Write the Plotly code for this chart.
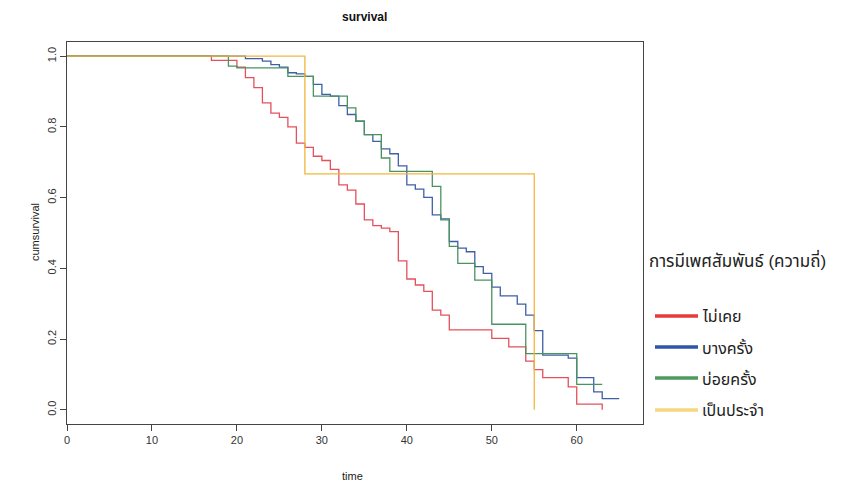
import plotly.graph_objects as go

# ---------------- data ----------------
series_names = ["ไม่เคย", "บางครั้ง", "บ่อยครั้ง", "เป็นประจำ"]
legend_title = "การมีเพศสัมพันธ์ (ความถี่)"

red_time = [0, 17, 20, 21, 22, 23, 24, 25, 26, 27, 28, 29, 30, 31, 32, 33, 34, 35, 36, 37, 38,
            39, 40, 41, 42, 43, 44, 45, 50, 52, 54, 55, 56, 59, 60, 63]
red_surv = [1.0, 0.988, 0.969, 0.939, 0.911, 0.868, 0.839, 0.827, 0.800, 0.754, 0.742, 0.717,
            0.705, 0.680, 0.636, 0.621, 0.582, 0.537, 0.521, 0.514, 0.504, 0.421, 0.370, 0.353,
            0.335, 0.282, 0.268, 0.226, 0.202, 0.178, 0.138, 0.114, 0.091, 0.065, 0.016, 0.0]

blue_time = [0, 21, 23, 24, 25, 26, 27, 28, 29, 30, 31, 32, 33, 34, 35, 36, 37, 38, 39, 40, 41,
             42, 43, 44, 45, 46, 47, 48, 49, 50, 51, 53, 54, 55, 56, 59, 60, 62, 63, 65]
blue_surv = [1.0, 0.993, 0.986, 0.976, 0.969, 0.953, 0.950, 0.943, 0.920, 0.892, 0.887, 0.860,
             0.835, 0.816, 0.778, 0.759, 0.738, 0.724, 0.690, 0.636, 0.624, 0.601, 0.551, 0.540,
             0.476, 0.457, 0.447, 0.405, 0.386, 0.347, 0.322, 0.299, 0.268, 0.224, 0.155, 0.146,
             0.091, 0.051, 0.032, 0.032]

green_time = [0, 19, 20, 26, 29, 33, 34, 35, 37, 38, 43, 44, 45, 46, 48, 50, 54, 60, 63]
green_surv = [1.0, 0.972, 0.967, 0.943, 0.887, 0.854, 0.816, 0.778, 0.712, 0.674, 0.632, 0.537,
              0.462, 0.414, 0.367, 0.242, 0.159, 0.072, 0.072]

yellow_time = [0, 28, 55]
yellow_surv = [1.0, 0.667, 0.0]

x_ticks = [0, 10, 20, 30, 40, 50, 60]
y_ticks = [0.0, 0.2, 0.4, 0.6, 0.8, 1.0]
y_ticklabels = ["0.0", "0.2", "0.4", "0.6", "0.8", "1.0"]

# ---------------- styling ----------------
line_colors = ["#E4505C", "#3F5FA8", "#4A9260", "#F2B63C"]
legend_colors = ["#E83A3E", "#2A57A8", "#4E9A5C", "#F8D680"]

OFF = 8  # page body margin in the browser
W, H = 852 - OFF, 485 - OFF
L, R, T, B = 67 - OFF, 643 - OFF, 42 - OFF, 424 - OFF  # plot area in figure pixels


def px(x):
    return (x - OFF - L) / (R - L)


def py(y):
    return (B - (y - OFF)) / (B - T)


fig = go.Figure()
all_series = [(red_time, red_surv), (blue_time, blue_surv), (green_time, green_surv),
              (yellow_time, yellow_surv)]
for (t, s), name, col in zip(all_series, series_names, line_colors):
    fig.add_trace(go.Scatter(x=t, y=s, mode="lines", line=dict(color=col, width=1.3, shape="hv"),
                             name=name, showlegend=False, hoverinfo="x+y"))

# manual legend (R-style, outside right)
shapes = []
annotations = []
annotations.append(dict(text=legend_title, x=px(737), y=py(260), xref="paper", yref="paper",
                        showarrow=False, xanchor="center", yanchor="middle",
                        font=dict(size=17, color="#222222")))
entry_y = [316, 347, 378, 410]
for name, col, ey in zip(series_names, legend_colors, entry_y):
    shapes.append(dict(type="line", xref="paper", yref="paper", x0=px(655), x1=px(698),
                       y0=py(ey), y1=py(ey), line=dict(color=col, width=3.5)))
    annotations.append(dict(text=name, x=px(700), y=py(ey), xref="paper", yref="paper",
                            showarrow=False, xanchor="left", yanchor="middle",
                            font=dict(size=16, color="#222222")))

# axis titles & main title
annotations.append(dict(text="time", x=px(352), y=py(476), xref="paper", yref="paper",
                        showarrow=False, xanchor="center", yanchor="middle",
                        font=dict(size=11, color="#222222")))
annotations.append(dict(text="cumsurvival", x=px(35), y=py(232), xref="paper", yref="paper",
                        showarrow=False, xanchor="center", yanchor="middle", textangle=-90,
                        font=dict(size=11, color="#222222")))
annotations.append(dict(text="<b>survival</b>", x=px(364), y=py(17), xref="paper", yref="paper",
                        showarrow=False, xanchor="center", yanchor="middle",
                        font=dict(size=12, color="#111111")))

fig.update_layout(
    width=W, height=H,
    margin=dict(l=L, r=W - R, t=T, b=H - B, pad=0),
    paper_bgcolor="white", plot_bgcolor="white",
    font=dict(family="Liberation Sans, Arial, Noto Sans Thai, sans-serif", color="#222222"),
    shapes=shapes, annotations=annotations,
    showlegend=False,
)
fig.update_xaxes(range=[0, 67.8], tickvals=x_ticks, ticks="outside", ticklen=6, tickcolor="#444444",
                 showline=True, linecolor="#444444", linewidth=1, mirror=True, showgrid=False,
                 zeroline=False, tickfont=dict(size=11, color="#333333"))
fig.update_yaxes(range=[-0.04, 1.04], tickvals=y_ticks, ticktext=y_ticklabels, ticks="outside",
                 ticklen=6, tickcolor="#444444", tickangle=-90,
                 showline=True, linecolor="#444444", linewidth=1, mirror=True, showgrid=False,
                 zeroline=False, tickfont=dict(size=11, color="#333333"))

fig.write_html("out.html")
